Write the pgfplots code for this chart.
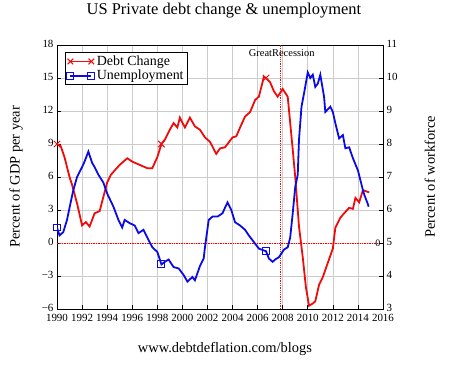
\documentclass[border=0pt]{standalone}
\usepackage{fontspec}
\setmainfont{Liberation Serif}
\usepackage{pgfplots}
\pgfplotsset{compat=1.18}
\definecolor{dred}{RGB}{240,10,10}
\definecolor{dblue}{RGB}{10,10,230}
\begin{document}
\begin{tikzpicture}
\pgfplotsset{
  legimg/.style={legend image code/.code={\draw[mark indices={1,2}] plot coordinates {(0cm,0cm) (0.74cm,0cm)};}},
}
\begin{axis}[
  scale only axis, width=326bp, height=264bp,
  xmin=1990, xmax=2016, ymin=-6, ymax=18,
  xtick={1990,1992,...,2016}, ytick={-6,-3,...,18},
  yticklabels={−6,−3,0,3,6,9,12,15,18},
  xtick pos=bottom, ytick pos=left,
  /pgf/number format/1000 sep={}, /pgf/number format/assume math mode=true,
  tick label style={font=\fontsize{11}{12}\selectfont},
  xticklabel style={yshift=-1.5bp},
  yticklabel style={yshift=1bp},
  grid=major, grid style={black!20, line width=0.6pt},
  axis line style={line width=0.9pt},
  tick style={black, line width=0.6pt},
  title={US Private debt change \& unemployment},
  title style={at={(axis description cs:0.512,1.106)}, anchor=center, font=\fontsize{16.5}{18}\selectfont},
  ylabel={Percent of GDP per year},
  ylabel style={at={(axis description cs:-0.1258,0.5)}, anchor=center, font=\fontsize{14.5}{16}\selectfont},
  xlabel={www.debtdeflation.com/blogs},
  xlabel style={at={(axis description cs:0.515,-0.1515)}, anchor=center, font=\fontsize{14.5}{16}\selectfont},
]
\addplot[dred, densely dotted, line width=0.7pt, forget plot] coordinates {(1990,0) (2016,0)};
\addplot[dred, densely dotted, line width=0.8pt, forget plot] coordinates {(2007.85,-6) (2007.85,18)};
\node[font=\fontsize{10.5}{12}\selectfont] at (axis cs:2007.92,17.27) {GreatRecession};
\node[font=\fontsize{10}{11}\selectfont] at (axis cs:2015.6,0) {0};
\addplot[dred, line width=1.8pt, mark=x, mark size=4.5pt, mark indices={1,23,46}, mark options={line width=1pt}] coordinates {
(1990.0,9.0) (1990.3,8.8) (1990.6,7.8) (1991.0,6.0) (1991.2,5.3) (1991.6,3.6) (1992.0,1.6) (1992.3,1.9)
(1992.6,1.5) (1993.0,2.7) (1993.4,2.9) (1993.7,4.2) (1994.0,5.5) (1994.3,6.2) (1994.6,6.6) (1995.0,7.1)
(1995.6,7.7) (1996.0,7.4) (1996.6,7.1) (1997.2,6.8) (1997.6,6.8) (1998.0,7.8) (1998.33,9.0) (1998.6,9.4)
(1999.0,10.3) (1999.3,10.9) (1999.6,10.5) (1999.8,11.4) (2000.2,10.5) (2000.6,11.4) (2001.0,10.6) (2001.4,10.3)
(2001.8,9.6) (2002.2,9.2) (2002.7,8.1) (2003.0,8.6) (2003.4,8.7) (2004.0,9.6) (2004.3,9.7) (2004.6,10.5)
(2005.0,11.5) (2005.4,11.9) (2005.8,13.0) (2006.1,13.3) (2006.5,15.1) (2006.67,15.0) (2007.0,14.6) (2007.3,13.8)
(2007.6,13.3) (2008.0,14.0) (2008.4,13.3) (2008.6,10.9) (2008.8,8.5) (2009.0,6.0) (2009.3,1.5) (2009.6,-1.3)
(2009.85,-4.0) (2010.1,-5.7) (2010.4,-5.5) (2010.6,-5.3) (2010.9,-3.8) (2011.2,-3.1) (2011.6,-1.8) (2012.0,-0.5)
(2012.2,1.4) (2012.6,2.3) (2012.9,2.7) (2013.3,3.2) (2013.6,3.1) (2013.8,4.1) (2014.1,3.7) (2014.4,4.8)
(2014.9,4.6)
};
\end{axis}
\begin{axis}[
  scale only axis, width=326bp, height=264bp,
  xmin=1990, xmax=2016, ymin=3, ymax=11,
  axis y line*=right, axis x line=none,
  ytick={3,...,11},
  /pgf/number format/assume math mode=true,
  tick label style={font=\fontsize{11}{12}\selectfont},
  yticklabel style={yshift=1bp},
  axis line style={line width=0.9pt},
  tick style={black, line width=0.6pt},
  ylabel={Percent of workforce},
  ylabel style={at={(axis description cs:1.144,0.5)}, anchor=center, font=\fontsize{14.5}{16}\selectfont},
  legend style={at={(0.0245,0.9735)}, anchor=north west, draw=black, line width=0.8pt,
    font=\fontsize{14}{15}\selectfont, inner sep=1.5pt, row sep=-1pt},
  legend cell align=left,
]
\addlegendimage{dred, line width=1.5pt, mark=x, mark size=4pt, mark options={line width=1pt}, legimg}
\addlegendentry{Debt Change}
\addplot[dblue, line width=1.8pt, mark=square, mark size=3.5pt, mark indices={1,27,52}, mark options={line width=1pt}, legimg] coordinates {
(1990.0,5.47) (1990.2,5.23) (1990.5,5.33) (1990.8,5.7) (1991.0,6.07) (1991.3,6.6) (1991.6,7.0) (1992.0,7.3)
(1992.2,7.47) (1992.5,7.77) (1992.8,7.43) (1993.0,7.3) (1993.3,7.07) (1993.7,6.83) (1994.0,6.5) (1994.5,6.1)
(1994.9,5.7) (1995.2,5.47) (1995.4,5.7) (1995.8,5.6) (1996.2,5.53) (1996.5,5.3) (1996.9,5.4) (1997.2,5.17)
(1997.6,4.87) (1998.0,4.73) (1998.33,4.35) (1998.6,4.43) (1998.9,4.5) (1999.3,4.27) (1999.7,4.23) (2000.1,4.03)
(2000.4,3.83) (2000.8,3.97) (2001.0,3.87) (2001.4,4.3) (2001.7,4.53) (2001.8,4.87) (2002.1,5.7) (2002.4,5.8)
(2002.8,5.8) (2003.2,5.9) (2003.4,6.07) (2003.6,6.23) (2003.9,6.0) (2004.2,5.63) (2004.6,5.53) (2005.0,5.4)
(2005.3,5.23) (2005.7,5.03) (2006.1,4.83) (2006.67,4.75) (2006.9,4.53) (2007.2,4.43) (2007.4,4.5) (2007.7,4.57)
(2008.1,4.8) (2008.4,4.87) (2008.6,5.17) (2008.8,5.9) (2009.0,6.7) (2009.2,7.07) (2009.3,8.13) (2009.5,9.13)
(2009.7,9.53) (2010.0,10.17) (2010.2,10.0) (2010.4,10.1) (2010.6,9.73) (2010.8,9.83) (2011.0,10.1) (2011.3,9.43)
(2011.4,8.97) (2011.8,9.13) (2012.0,8.97) (2012.2,8.63) (2012.5,8.17) (2012.8,8.27) (2013.0,7.87) (2013.3,7.9)
(2013.6,7.57) (2014.0,7.2) (2014.2,6.9) (2014.4,6.6) (2014.5,6.47) (2014.8,6.17) (2014.85,6.1)
};
\addlegendentry{Unemployment}
\end{axis}
\pgfresetboundingbox
\path[use as bounding box] (-57bp,-61bp) rectangle (393bp,309bp);
\end{tikzpicture}
\end{document}
